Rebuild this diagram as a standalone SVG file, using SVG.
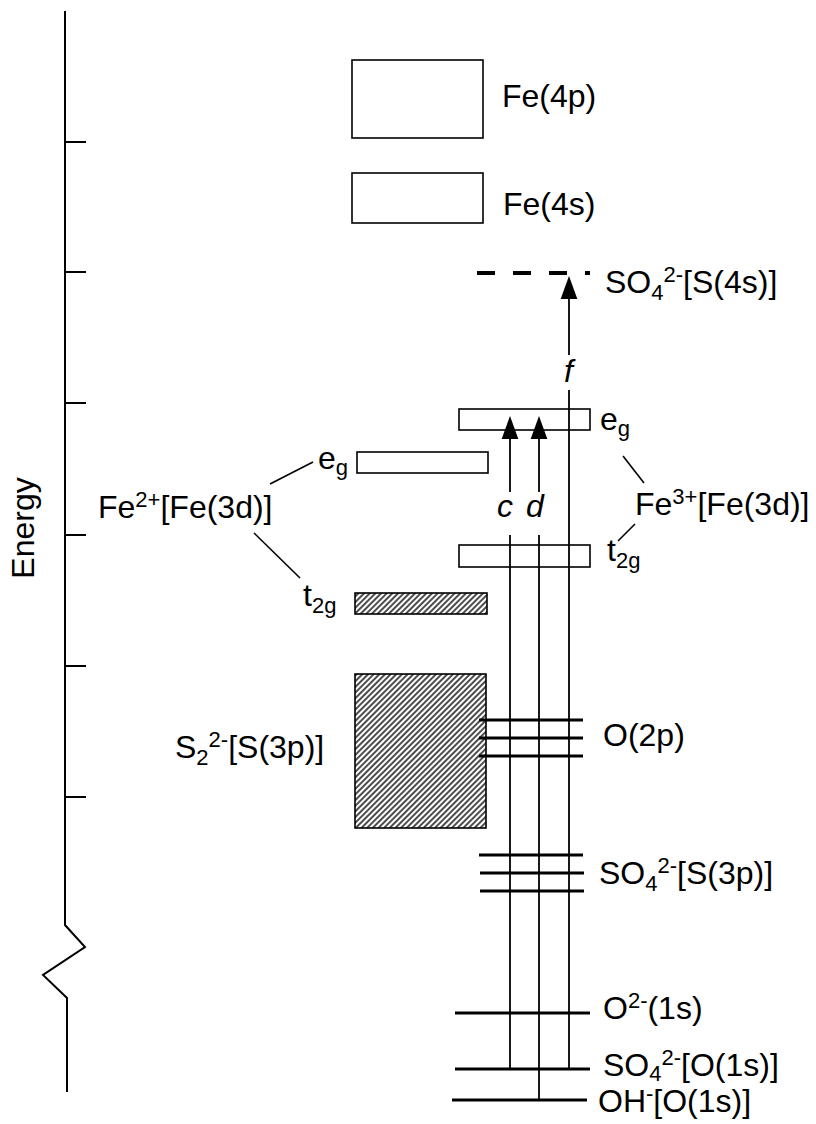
<svg xmlns="http://www.w3.org/2000/svg" width="816" height="1124" viewBox="0 0 816 1124">
<style>
.t{font-family:"Liberation Sans",Arial,Helvetica,sans-serif;font-size:32px;fill:#000}
.i{font-style:italic}
.box{fill:none;stroke:#000;stroke-width:1.6}
.hb{fill:url(#hatch);stroke:#000;stroke-width:1.6}
.lvl{stroke:#000;stroke-width:3.2}
.ax{fill:none;stroke:#000;stroke-width:2}
.tick{stroke:#000;stroke-width:2}
.cn{stroke:#000;stroke-width:1.6;fill:none}
.tr{stroke:#000;stroke-width:1.8;fill:none}
</style>
<defs>
<pattern id="hatch" width="4" height="4" patternUnits="userSpaceOnUse" patternTransform="rotate(45)">
<rect width="4" height="4" fill="#fff"/>
<line x1="1" y1="0" x2="1" y2="4" stroke="#000" stroke-width="1.4"/>
</pattern>
<marker id="arr" markerUnits="userSpaceOnUse" markerWidth="24" markerHeight="18" refX="0" refY="8" orient="auto" viewBox="0 0 23 16">
<path d="M0,0 L22,8 L0,16 z" fill="#000"/>
</marker>
</defs>

<g id="axis">
<path class="ax" d="M65,11 V925 L85,947 L43,975 L67,998 V1092"/>
<line class="tick" x1="66" y1="142" x2="86" y2="142"/>
<line class="tick" x1="66" y1="272" x2="86" y2="272"/>
<line class="tick" x1="66" y1="403" x2="86" y2="403"/>
<line class="tick" x1="66" y1="535" x2="86" y2="535"/>
<line class="tick" x1="66" y1="666" x2="86" y2="666"/>
<line class="tick" x1="66" y1="797" x2="86" y2="797"/>
<text class="t" transform="translate(34,528) rotate(-90)" text-anchor="middle">Energy</text>
</g>

<g id="fe4p">
<rect class="box" x="352" y="60" width="131" height="78"/>
<text class="t" x="502" y="107">Fe(4p)</text>
</g>

<g id="fe4s">
<rect class="box" x="352" y="173" width="131" height="50"/>
<text class="t" x="503" y="215">Fe(4s)</text>
</g>

<g id="so4-s4s">
<line x1="477" y1="273" x2="590" y2="273" stroke="#000" stroke-width="4" stroke-dasharray="18 18"/>
<text class="t" x="605" y="293">SO<tspan font-size="22" dy="7">4</tspan><tspan font-size="22" dy="-18">2-</tspan><tspan dy="11">[S(4s)]</tspan></text>
</g>

<g id="fe3-eg">
<rect class="box" x="459" y="409" width="131" height="21"/>
<text class="t" x="600" y="430">e<tspan font-size="22" dy="6">g</tspan></text>
</g>

<g id="fe3-t2g">
<rect class="box" x="459" y="545" width="131" height="22"/>
<text class="t" x="607" y="561">t<tspan font-size="22" dy="7">2g</tspan></text>
</g>

<g id="fe3">
<text class="t" x="635" y="515">Fe<tspan font-size="22" dy="-11">3+</tspan><tspan dy="11">[Fe(3d)]</tspan></text>
</g>

<g id="fe2-eg">
<rect class="box" x="357" y="452" width="131" height="21"/>
<text class="t" x="318" y="469">e<tspan font-size="22" dy="6">g</tspan></text>
</g>

<g id="fe2-t2g">
<rect class="hb" x="355" y="593" width="132" height="21"/>
<text class="t" x="303" y="606">t<tspan font-size="22" dy="7">2g</tspan></text>
</g>

<g id="fe2">
<text class="t" x="98" y="518">Fe<tspan font-size="22" dy="-11">2+</tspan><tspan dy="11">[Fe(3d)]</tspan></text>
</g>

<g id="s2-s3p">
<rect class="hb" x="355" y="674" width="131" height="154"/>
<text class="t" x="175" y="758">S<tspan font-size="22" dy="7">2</tspan><tspan font-size="22" dy="-18">2-</tspan><tspan dy="11">[S(3p)]</tspan></text>
</g>

<g id="o2p">
<line class="lvl" x1="479" y1="720" x2="583" y2="720"/>
<line class="lvl" x1="479" y1="738" x2="583" y2="738"/>
<line class="lvl" x1="479" y1="756" x2="583" y2="756"/>
<text class="t" x="603" y="746">O(2p)</text>
</g>

<g id="so4-s3p">
<line class="lvl" x1="479" y1="855" x2="583" y2="855"/>
<line class="lvl" x1="480" y1="873" x2="584" y2="873"/>
<line class="lvl" x1="480" y1="891" x2="584" y2="891"/>
<text class="t" x="599" y="884">SO<tspan font-size="22" dy="7">4</tspan><tspan font-size="22" dy="-18">2-</tspan><tspan dy="11">[S(3p)]</tspan></text>
</g>

<g id="o2-1s">
<line class="lvl" x1="455" y1="1013" x2="590" y2="1013"/>
<text class="t" x="603" y="1019">O<tspan font-size="22" dy="-11">2-</tspan><tspan dy="11">(1s)</tspan></text>
</g>

<g id="so4-o1s">
<line class="lvl" x1="455" y1="1069" x2="590" y2="1069"/>
<text class="t" x="603" y="1076">SO<tspan font-size="22" dy="5">4</tspan><tspan font-size="22" dy="-16">2-</tspan><tspan dy="11">[O(1s)]</tspan></text>
</g>

<g id="oh-o1s">
<line class="lvl" x1="452" y1="1100" x2="587" y2="1100"/>
<text class="t" x="598" y="1112">OH<tspan font-size="22" dy="-11">-</tspan><tspan dy="11">[O(1s)]</tspan></text>
</g>

<g id="connectors">
<line class="cn" x1="270" y1="484" x2="313" y2="462"/>
<line class="cn" x1="254" y1="533" x2="300" y2="578"/>
<line class="cn" x1="623" y1="456" x2="644" y2="483"/>
<line class="cn" x1="635" y1="524" x2="618" y2="541"/>
<line class="tr" x1="510" y1="1069" x2="510" y2="535"/>
<line class="tr" x1="510" y1="492" x2="510" y2="439" marker-end="url(#arr)"/>
<line class="tr" x1="539" y1="1100" x2="539" y2="535"/>
<line class="tr" x1="539" y1="492" x2="539" y2="439" marker-end="url(#arr)"/>
<line class="tr" x1="569" y1="1069" x2="569" y2="390"/>
<line class="tr" x1="569" y1="355" x2="569" y2="299" marker-end="url(#arr)"/>
<text class="t i" x="497" y="517">c</text>
<text class="t i" x="526" y="517">d</text>
<text class="t i" x="564" y="382">f</text>
</g>
</svg>
